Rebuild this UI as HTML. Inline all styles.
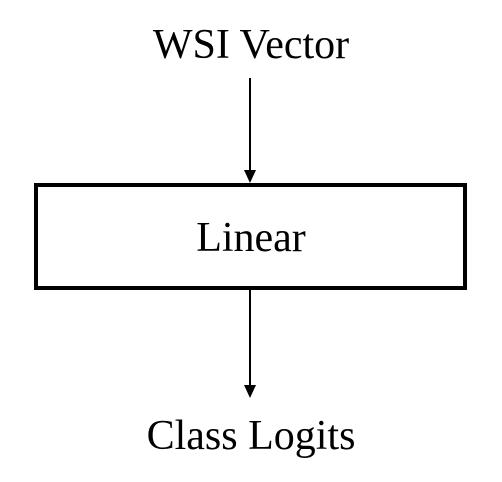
<!DOCTYPE html>
<html><head><style>
html,body{margin:0;padding:0;background:#fff;}
body{width:502px;height:482px;position:relative;overflow:hidden;font-family:"Liberation Serif",serif;}
</style></head><body>
<svg width="502" height="482" xmlns="http://www.w3.org/2000/svg" style="position:absolute;left:0;top:0">
<text x="251" y="58" font-size="42" text-anchor="middle" font-family="Liberation Serif, serif">WSI Vector</text>
<line x1="250" y1="78" x2="250" y2="172" stroke="#000" stroke-width="2"/>
<polygon points="244,170 256,170 250,183" fill="#000"/>
<rect x="36" y="185" width="429" height="103" fill="none" stroke="#000" stroke-width="4"/>
<text x="251" y="251" font-size="42" text-anchor="middle" font-family="Liberation Serif, serif">Linear</text>
<line x1="250" y1="290" x2="250" y2="386" stroke="#000" stroke-width="2"/>
<polygon points="244,385 256,385 250,398" fill="#000"/>
<text x="251" y="449" font-size="42" text-anchor="middle" font-family="Liberation Serif, serif">Class Logits</text>
</svg>
</body></html>
